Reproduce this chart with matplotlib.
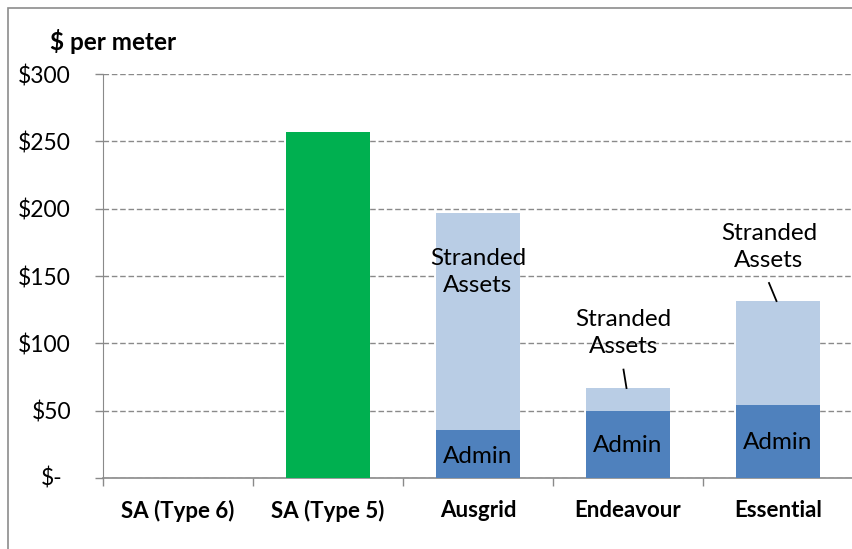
import matplotlib
matplotlib.use("Agg")
import matplotlib.pyplot as plt
from matplotlib.patches import Rectangle
import matplotlib.transforms as mtransforms

categories = ["SA (Type 6)", "SA (Type 5)", "Ausgrid", "Endeavour", "Essential"]
sa_values = [0, 257, 0, 0, 0]
admin_values = [0, 0, 35.5, 49.7, 54.2]
stranded_values = [0, 0, 161.2, 17.1, 77.2]
ytick_values = [50, 100, 150, 200, 250, 300]
ytick_labels = ["$50", "$100", "$150", "$200", "$250", "$300"]

plt.rcParams['font.family'] = ['Lato', 'DejaVu Sans']

fig = plt.figure(figsize=(8.53, 5.49), dpi=100)
ax = fig.add_axes([103/853, 1 - 478/549, 750/853, 404/549])

x = list(range(len(categories)))
w = 0.56
green = "#00B050"
dark = "#4F81BD"
light = "#B9CDE5"

ax.bar(x, sa_values, width=w, color=green, zorder=3)
ax.bar(x, admin_values, width=w, color=dark, zorder=3)
ax.bar(x, stranded_values, width=w, bottom=admin_values, color=light, zorder=3)

ax.set_xlim(-0.5, 4.5)
ax.set_ylim(0, 300)

ax.set_yticks([0] + ytick_values)
ax.set_yticklabels([""] + ytick_labels, fontsize=16.5)
ax.yaxis.grid(True, linestyle=(0, (4, 2)), color="#8a8a8a", linewidth=1, zorder=0)
ax.tick_params(axis='y', length=6, width=1, color="#8a8a8a", pad=17)
ax.text(-0.069, 0, "$-", transform=mtransforms.blended_transform_factory(ax.transAxes, ax.transData),
        ha="center", va="center", fontsize=16.5)

ax.set_xticks(x)
ax.set_xticklabels(categories, fontsize=16, fontweight="bold")
ax.set_xticks([i - 0.5 for i in range(len(categories))], minor=True)
ax.tick_params(axis='x', which='major', length=0, pad=16)
ax.tick_params(axis='x', which='minor', length=6, width=1, color="#8a8a8a")

for s in ["top", "right"]:
    ax.spines[s].set_visible(False)
ax.spines["left"].set_color("#8a8a8a")
ax.spines["bottom"].set_color("#8a8a8a")
ax.spines["bottom"].set_linewidth(1.2)

fs = 17.5
ls = 1.4
# Stranded assets labels
ax.text(2, 153, "Stranded\nAssets", ha="center", va="center", fontsize=fs, linespacing=ls, zorder=5)
ax.text(2.97, 107.6, "Stranded\nAssets", ha="center", va="center", fontsize=fs, linespacing=ls, zorder=5)
ax.text(3.94, 171.5, "Stranded\nAssets", ha="center", va="center", fontsize=fs, linespacing=ls, zorder=5)
ax.plot([2.97, 2.99], [80.5, admin_values[3] + stranded_values[3]], color="black", lw=1.3, zorder=5)
ax.plot([3.94, 3.99], [144.8, admin_values[4] + stranded_values[4]], color="black", lw=1.3, zorder=5)
# Admin labels
ax.text(2, 15.6, "Admin", ha="center", va="center", fontsize=fs, zorder=5)
ax.text(3, 23.8, "Admin", ha="center", va="center", fontsize=fs, zorder=5)
ax.text(4, 26.7, "Admin", ha="center", va="center", fontsize=fs, zorder=5)

fig.text(50/853, 1 - 42/549, "$ per meter", ha="left", va="center", fontsize=17.5, fontweight="bold")

fig.patches.append(Rectangle((8/853, -0.2), 1.2, 1.2 - 8/549, transform=fig.transFigure,
                             fill=False, edgecolor="#8c8c8c", linewidth=1.2))

fig.savefig("out.png", dpi=100)
